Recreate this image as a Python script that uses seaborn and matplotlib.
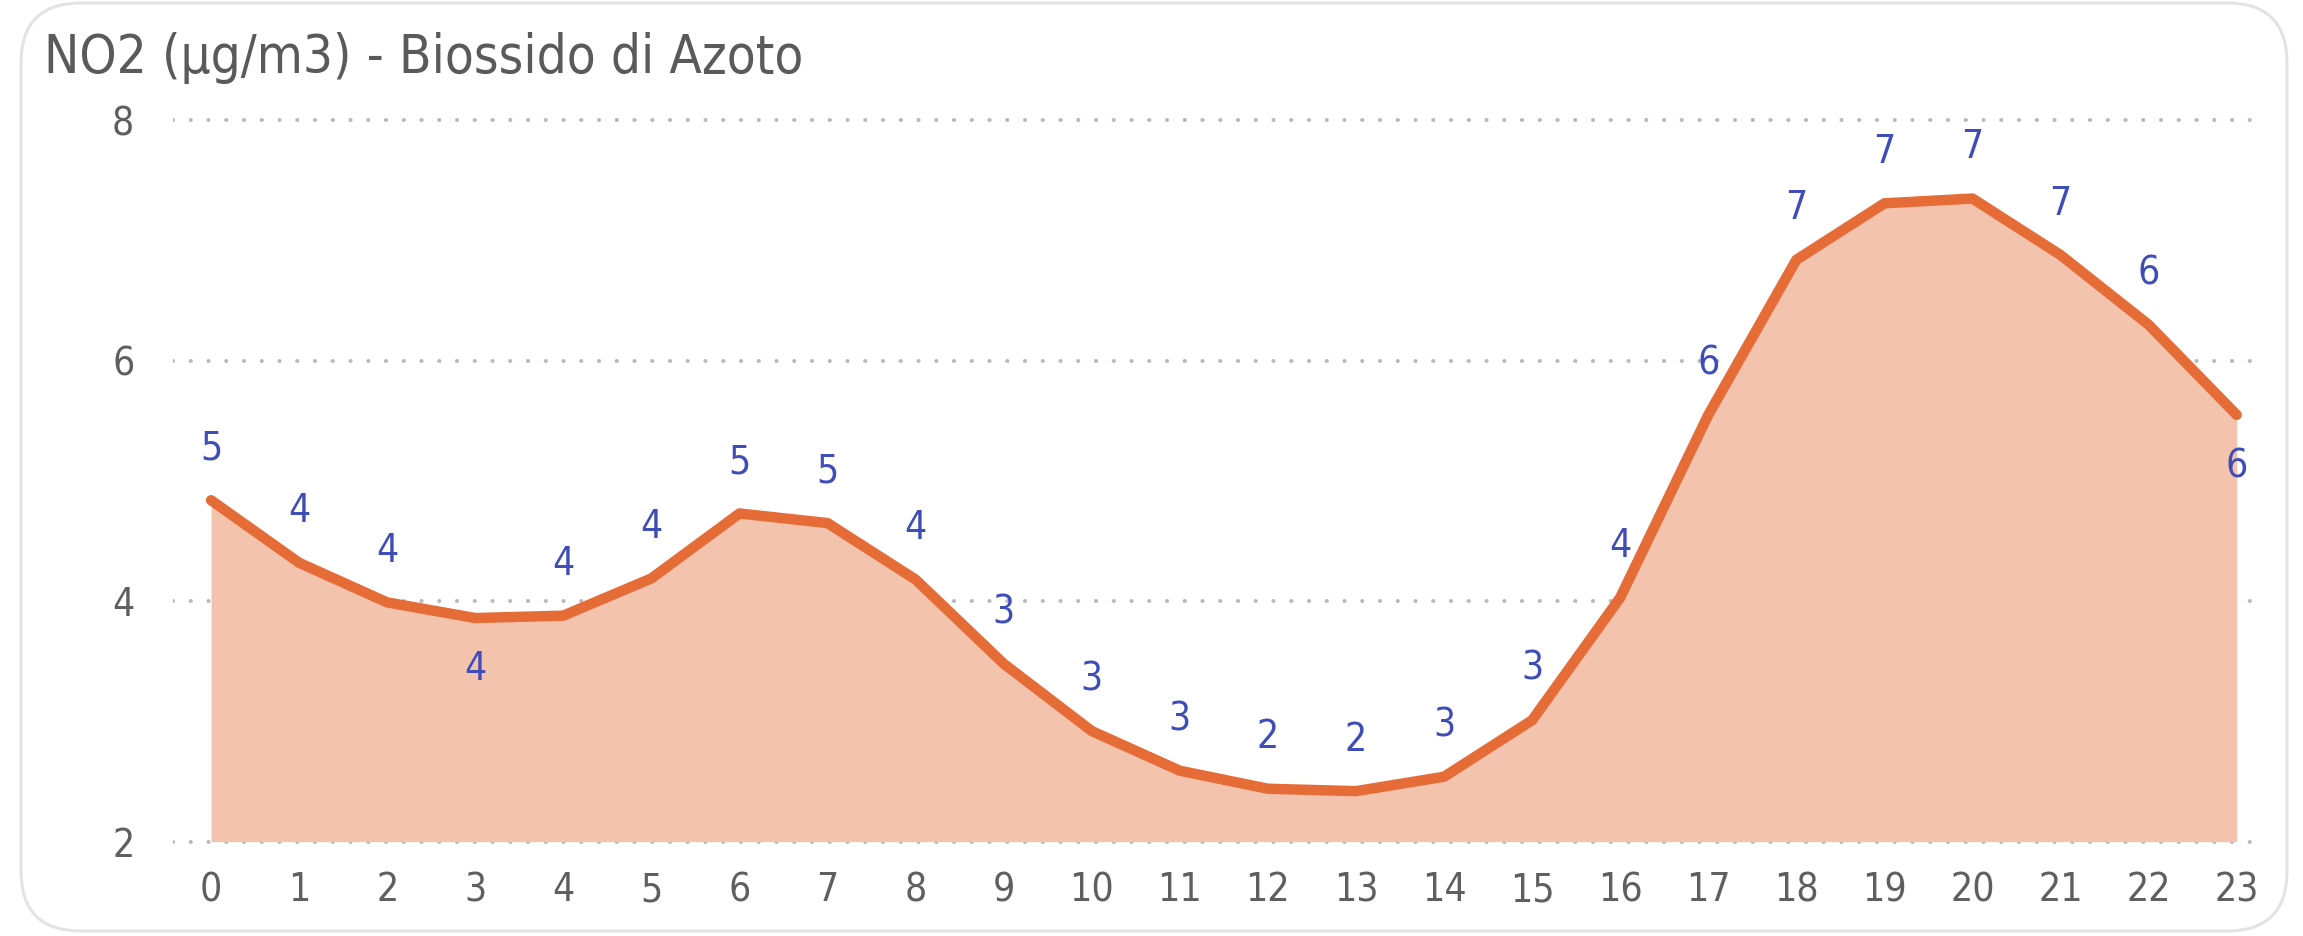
import pandas as pd
import matplotlib.pyplot as plt
import seaborn as sns
from matplotlib.patches import FancyBboxPatch

# hourly NO2 values
hours = list(range(24))
no2 = [4.84, 4.32, 3.99, 3.86, 3.88, 4.19, 4.73, 4.65, 4.18, 3.48, 2.92, 2.59,
       2.44, 2.42, 2.54, 3.01, 4.03, 5.55, 6.84, 7.31, 7.35, 6.88, 6.30, 5.55]
label_below = [3, 23]
y_ticks = [2, 4, 6, 8]
title = "NO2 (µg/m3) - Biossido di Azoto"

def main():
    df = pd.DataFrame({"ora": hours, "no2": no2})

    sns.set_style("white")
    plt.rcParams['font.family'] = ['DejaVu Sans']
    plt.rcParams['font.stretch'] = 'condensed'

    fig = plt.figure(figsize=(23.03, 9.36), dpi=100)
    ax = fig.add_axes([0.0752, 0.0944, 0.9048, 0.7834])

    line_col = "#E66C37"
    ax.fill_between(df["ora"], 2, df["no2"], color="#F4C3AD", lw=0, zorder=1)
    sns.lineplot(data=df, x="ora", y="no2", ax=ax, color=line_col, linewidth=7.5,
                 solid_joinstyle="round", solid_capstyle="round", zorder=3)

    # data labels
    for h, v in zip(df["ora"], df["no2"]):
        off = -37 if h in label_below else 37
        ax.annotate(f"{v:.0f}", (h, v), xytext=(0, off), textcoords="offset points",
                    ha="center", va="center", fontsize=28, color="#3F4DB8", zorder=4)

    ax.set_xlim(-0.43, 23.23)
    ax.set_ylim(1.95, 8.05)
    ax.set_xticks(hours)
    ax.set_yticks(y_ticks)
    ax.tick_params(axis="x", labelsize=28, colors="#5f5f5f", pad=17, length=0)
    ax.tick_params(axis="y", labelsize=28, colors="#5f5f5f", pad=28, length=0)
    ax.set_xlabel("")
    ax.set_ylabel("")
    for s in ax.spines.values():
        s.set_visible(False)
    ax.grid(axis="y", color="#bababa", linestyle=(0, (0.01, 4.25)), linewidth=3)
    ax.grid(axis="x", visible=False)
    for gl in ax.get_ygridlines():
        gl.set_zorder(2)
        gl.set_dash_capstyle("round")

    fig.text(44 / 2303, 1 - 73 / 936, title, fontsize=38, color="#5a5a5a",
             ha="left", va="baseline")

    # rounded card border
    card = FancyBboxPatch((21, 5), 2266, 928, boxstyle="round,pad=0,rounding_size=60",
                          transform=None, facecolor="none", edgecolor="#e3e3e3", linewidth=2.2)
    fig.add_artist(card)

    fig.savefig("out.png", dpi=100)

if __name__ == "__main__":
    main()
